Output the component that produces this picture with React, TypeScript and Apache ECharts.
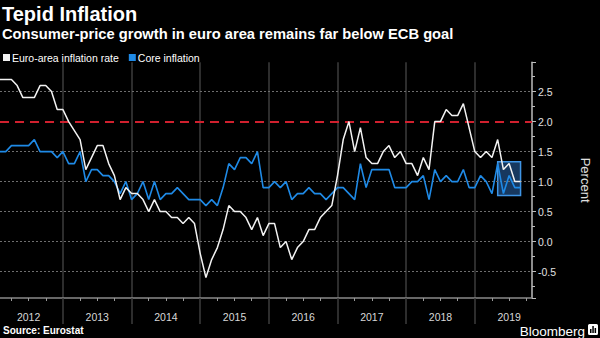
import React, { useEffect, useRef } from 'react';
import * as echarts from 'echarts';

// Monthly categories, Jan 2012 .. Oct 2019 (data end Aug 2019)
const firstYear = 2012;
const lastYear = 2019;
const lastMonthOfLastYear = 10;
const months: string[] = [];
for (let y = firstYear; y <= lastYear; y++) {
  const end = y === lastYear ? lastMonthOfLastYear : 12;
  for (let m = 1; m <= end; m++) months.push(`${y}-${m < 10 ? '0' + m : m}`);
}

// Euro-area inflation rate (%, y/y), Jan 2012 .. Aug 2019
const headline = [
  2.7, 2.7, 2.7, 2.6, 2.4, 2.4, 2.4, 2.6, 2.6, 2.5, 2.2, 2.2,
  2.0, 1.85, 1.7, 1.2, 1.4, 1.6, 1.6, 1.3, 1.1, 0.7, 0.9, 0.8,
  0.8, 0.7, 0.5, 0.7, 0.5, 0.5, 0.4, 0.4, 0.3, 0.4, 0.3, -0.2,
  -0.6, -0.3, -0.1, 0.2, 0.6, 0.5, 0.5, 0.4, 0.2, 0.4, 0.1, 0.3,
  0.3, -0.1, 0.0, -0.3, -0.1, 0.0, 0.2, 0.2, 0.4, 0.5, 0.6, 1.1,
  1.7, 2.0, 1.5, 1.9, 1.4, 1.3, 1.3, 1.5, 1.6, 1.4, 1.5, 1.3,
  1.3, 1.1, 1.4, 1.2, 2.0, 2.0, 2.2, 2.1, 2.1, 2.3, 1.9, 1.5,
  1.4, 1.5, 1.4, 1.7, 1.2, 1.3, 1.0, 1.0,
];

// Core inflation (%, y/y), Jan 2012 .. Aug 2019
const core = [
  1.5, 1.5, 1.6, 1.6, 1.6, 1.6, 1.7, 1.5, 1.5, 1.5, 1.4, 1.5,
  1.3, 1.3, 1.5, 1.0, 1.2, 1.2, 1.1, 1.1, 1.0, 0.8, 1.0, 0.7,
  0.8, 1.0, 0.7, 1.0, 0.7, 0.8, 0.8, 0.9, 0.8, 0.7, 0.7, 0.7,
  0.6, 0.7, 0.6, 0.9, 1.3, 1.2, 1.4, 1.4, 1.3, 1.5, 0.9, 0.9,
  1.0, 0.9, 1.0, 0.7, 0.8, 0.8, 0.9, 0.8, 0.8, 0.7, 0.8, 0.9,
  0.9, 0.8, 0.7, 1.3, 0.9, 1.2, 1.2, 1.2, 1.2, 0.9, 0.9, 0.9,
  1.0, 1.0, 1.1, 0.7, 1.2, 1.0, 1.1, 1.0, 1.0, 1.2, 0.9, 0.9,
  1.1, 1.0, 0.8, 1.3, 0.8, 1.1, 0.9, 0.9,
];

// Horizontal gridline levels (same as the y-axis tick labels)
const gridLevels = [-0.5, 0.0, 0.5, 1.0, 1.5, 2.5];

const ecbGoal = 2.0;
const highlightFrom = '2019-04';
const highlightTo = '2019-08';
const highlightLow = 0.77;
const highlightHigh = 1.33;

const yMin = -0.94;
const yMax = 2.99;

const SANS = '"Liberation Sans", Arial, sans-serif';

export default function App() {
  const ref = useRef<HTMLDivElement>(null);
  useEffect(() => {
    if (!ref.current) return;
    const chart = echarts.init(ref.current, undefined, { renderer: 'svg' });
    const option: any = {
      animation: false,
      backgroundColor: '#000',
      title: [
        { text: 'Tepid Inflation', left: 2, top: 4, padding: 0,
          textStyle: { color: '#fff', fontSize: 20, fontWeight: 'bold', fontFamily: SANS } },
        { text: 'Consumer-price growth in euro area remains far below ECB goal', left: 2, top: 26, padding: 0,
          textStyle: { color: '#fff', fontSize: 14.7, fontWeight: 'bold', fontFamily: SANS } },
        { text: 'Source: Eurostat', left: 3, top: 325, padding: 0,
          textStyle: { color: '#fff', fontSize: 10, fontWeight: 'bold', fontFamily: SANS } },
        { text: 'Bloomberg', right: 15, top: 324.5, padding: 0,
          textStyle: { color: '#fff', fontSize: 13.5, fontWeight: 'normal', fontFamily: SANS } },
      ],
      legend: {
        top: 52, left: 3, padding: 0, itemWidth: 7, itemHeight: 7, itemGap: 10, icon: 'rect',
        data: ['Euro-area inflation rate', 'Core inflation'],
        textStyle: { color: '#fff', fontSize: 10.5, fontFamily: SANS, padding: [0, 0, 0, -3] },
      },
      grid: { left: 0, right: 43, top: 62.2, bottom: 40, containLabel: false },
      xAxis: [
        {
          type: 'category', data: months, boundaryGap: false,
          axisLine: { show: true, onZero: false, lineStyle: { color: '#8a8a8a', width: 1.5 } },
          axisTick: { show: true, interval: (i: number) => i % 12 === 11, length: 26,
            lineStyle: { color: '#3c3c3c', width: 1.5 } },
          axisLabel: { interval: (i: number) => i % 12 === 5, formatter: (v: string) => v.slice(0, 4),
            color: '#d8d8d8', fontSize: 10.5, fontFamily: SANS, margin: 13 },
          splitLine: { show: true, interval: (i: number) => i % 12 === 11,
            lineStyle: { color: '#3c3c3c', width: 1.5 } },
        },
        {
          type: 'category', data: months, boundaryGap: false, position: 'bottom', offset: 0,
          axisLine: { show: false, onZero: false },
          axisTick: { show: true, interval: (i: number) => i % 3 === 2 && i % 12 !== 11, length: 3,
            lineStyle: { color: '#9a9a9a' } },
          axisLabel: { show: false },
          splitLine: { show: false },
        },
      ],
      yAxis: {
        type: 'value', position: 'right', min: yMin, max: yMax, splitNumber: 8,
        axisLine: { show: true, lineStyle: { color: '#bdbdbd', width: 1.5 } },
        axisTick: { show: true, length: 4, lineStyle: { color: '#bdbdbd' } },
        minorTick: { show: true, splitNumber: 2, length: 3, lineStyle: { color: '#bdbdbd' } },
        axisLabel: {
          color: '#e0e0e0', fontSize: 10.5, fontFamily: SANS, margin: 6,
          formatter: (v: number) => (Math.abs(v * 2 - Math.round(v * 2)) < 1e-6 ? v.toFixed(1) : ''),
        },
        splitLine: { show: false },
        name: 'Percent', nameLocation: 'middle', nameRotate: -90, nameGap: 47,
        nameTextStyle: { color: '#e0e0e0', fontSize: 13, fontFamily: SANS },
      },
      series: [
        {
          name: 'Core inflation', type: 'line', data: core, symbol: 'none',
          color: '#1f8ae6', lineStyle: { color: '#1f8ae6', width: 1.6 }, z: 2,
          markLine: {
            silent: true, symbol: 'none', label: { show: false }, z: 1,
            lineStyle: { color: '#6e6e6e', type: [2, 2], width: 1 },
            data: gridLevels.map((v) => ({ yAxis: v })),
          },
          markArea: {
            silent: true,
            itemStyle: { color: 'rgba(50,125,210,0.45)', borderColor: '#3f95e6', borderWidth: 1.5 },
            data: [[{ xAxis: highlightFrom, yAxis: highlightLow }, { xAxis: highlightTo, yAxis: highlightHigh }]],
          },
        },
        {
          name: 'Euro-area inflation rate', type: 'line', data: headline, symbol: 'none',
          color: '#f2f2f2', lineStyle: { color: '#f2f2f2', width: 1.5 }, z: 3,
          markLine: {
            silent: true, symbol: 'none', label: { show: false }, z: 2,
            lineStyle: { color: '#d0202e', type: [9, 6], width: 2 },
            data: [{ yAxis: ecbGoal }],
          },
        },
      ],
      graphic: [
        {
          type: 'group', right: 2, top: 324,
          children: [
            { type: 'rect', shape: { x: 0, y: 0, width: 10, height: 11, r: 1.5 }, style: { fill: '#fff' } },
            { type: 'rect', shape: { x: 2, y: 5, width: 1.5, height: 4 }, style: { fill: '#000' } },
            { type: 'rect', shape: { x: 4.3, y: 2, width: 1.5, height: 7 }, style: { fill: '#000' } },
            { type: 'rect', shape: { x: 6.6, y: 4, width: 1.5, height: 5 }, style: { fill: '#000' } },
          ],
        },
      ],
    };
    chart.setOption(option);
    return () => chart.dispose();
  }, []);
  return (
    <div ref={ref} style={{ position: 'fixed', left: 0, top: 0, width: 600, height: 338, background: '#000' }} />
  );
}
